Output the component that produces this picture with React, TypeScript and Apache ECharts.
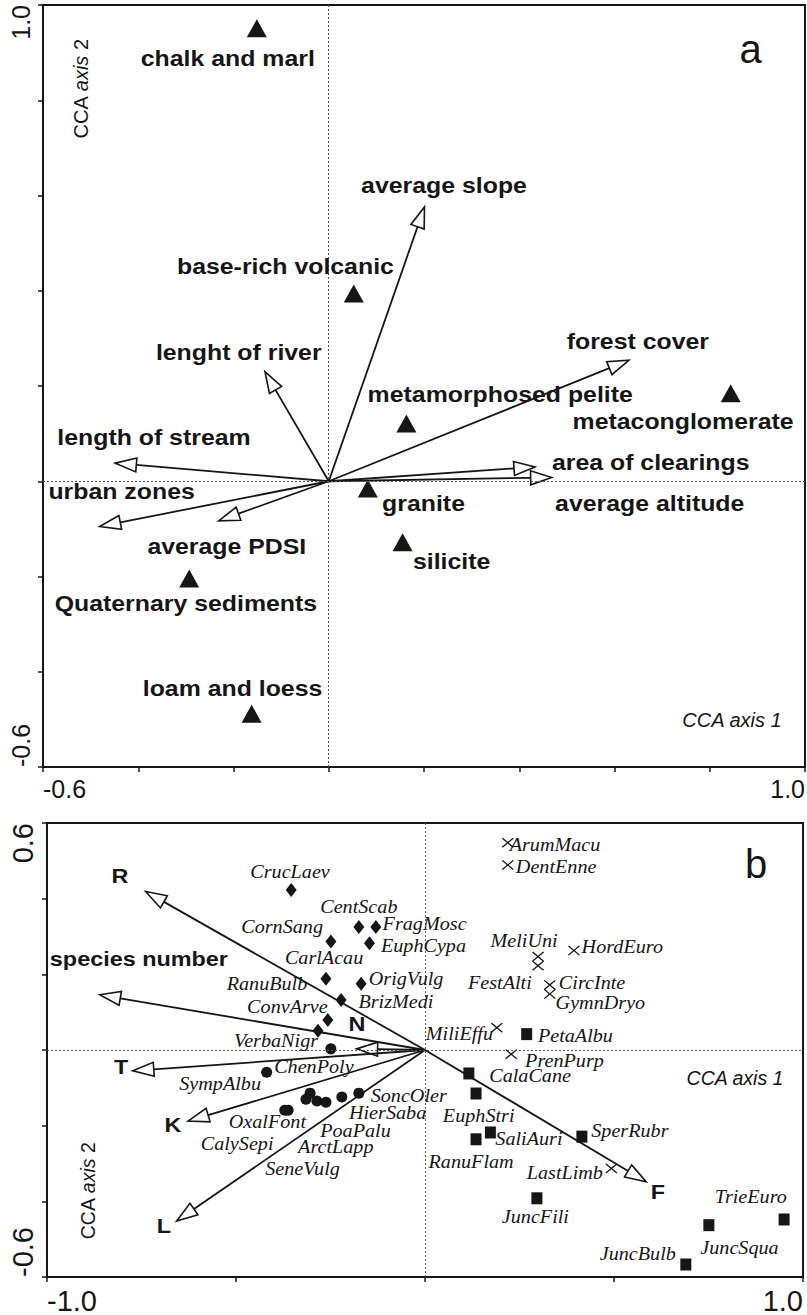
import React, { useEffect, useRef } from "react";
import * as echarts from "echarts";

// ---------------- Panel a : environmental variables (arrows) ----------------
const envNames = ["average slope", "lenght of river", "forest cover", "area of clearings", "average altitude", "length of stream", "urban zones", "average PDSI"];
const envX = [0.201, -0.134, 0.63, 0.433, 0.468, -0.448, -0.481, -0.231];
const envY = [0.576, 0.23, 0.254, 0.03, 0.008, 0.038, -0.095, -0.083];

// Panel a : bedrock types (triangles)
const rockNames = ["chalk and marl", "base-rich volcanic", "metamorphosed pelite", "metaconglomerate", "granite", "silicite", "Quaternary sediments", "loam and loess"];
const rockX = [-0.151, 0.0525, 0.163, 0.844, 0.082, 0.155, -0.293, -0.162];
const rockY = [0.951, 0.394, 0.121, 0.185, -0.015, -0.128, -0.204, -0.488];

// Panel a : label anchors (data units)
const labelANames = ["chalk and marl", "average slope", "base-rich volcanic", "lenght of river", "forest cover", "metamorphosed pelite", "metaconglomerate", "length of stream", "area of clearings", "urban zones", "granite", "average altitude", "average PDSI", "silicite", "Quaternary sediments", "loam and loess"];
const labelAX = [-0.212, 0.242, -0.091, -0.189, 0.649, 0.36, 0.744, -0.367, 0.676, -0.435, 0.199, 0.674, -0.214, 0.258, -0.3, -0.202];
const labelAY = [0.888, 0.621, 0.451, 0.27, 0.294, 0.182, 0.125, 0.091, 0.039, -0.022, -0.047, -0.047, -0.138, -0.169, -0.256, -0.436];

// Panel a axes
const axisAX = { min: -0.6, max: 1.0, interval: 0.2 };
const axisAY = { min: -0.6, max: 1.0, interval: 0.2 };
const tickLabelsAX = [-0.6, 1.0];
const tickLabelsAY = [-0.6, 1.0];

// ---------------- Panel b : trait arrows ----------------
const traitNames = ["R", "species number", "N", "T", "K", "L", "F"];
const traitX = [-0.739, -0.861, -0.181, -0.773, -0.627, -0.657, 0.585];
const traitY = [0.419, 0.146, 0.003, -0.055, -0.188, -0.452, -0.348];
const traitLabelX = [-0.807, -0.757, -0.18, -0.804, -0.667, -0.691, 0.616];
const traitLabelY = [0.458, 0.238, 0.066, -0.048, -0.201, -0.468, -0.378];

// Panel b : species groups
const diamondX = [-0.354, -0.175, -0.13, -0.249, -0.147, -0.262, -0.169, -0.222, -0.257, -0.283];
const diamondY = [0.423, 0.325, 0.325, 0.287, 0.282, 0.188, 0.175, 0.132, 0.079, 0.051];
const circleX = [-0.249, -0.419, -0.371, -0.362, -0.315, -0.304, -0.286, -0.262, -0.22, -0.175];
const circleY = [0.003, -0.059, -0.159, -0.159, -0.13, -0.114, -0.135, -0.138, -0.124, -0.114];
const crossX = [0.219, 0.219, 0.394, 0.299, 0.299, 0.33, 0.33, 0.19, 0.228, 0.493];
const crossY = [0.548, 0.489, 0.263, 0.247, 0.223, 0.172, 0.148, 0.059, -0.011, -0.313];
const squareX = [0.269, 0.116, 0.135, 0.173, 0.135, 0.415, 0.296, 0.95, 0.751, 0.69];
const squareY = [0.042, -0.062, -0.115, -0.218, -0.236, -0.229, -0.392, -0.448, -0.463, -0.567];

// Panel b : species label anchors (data units)
const speciesNames = ["ArumMacu", "DentEnne", "CrucLaev", "CentScab", "CornSang", "FragMosc", "EuphCypa", "MeliUni", "HordEuro", "CarlAcau", "RanuBulb", "OrigVulg", "FestAlti", "CircInte", "BrizMedi", "GymnDryo", "ConvArve", "MiliEffu", "PetaAlbu", "VerbaNigr", "PrenPurp", "ChenPoly", "CalaCane", "SympAlbu", "SoncOler", "HierSaba", "EuphStri", "OxalFont", "PoaPalu", "SaliAuri", "SperRubr", "CalySepi", "ArctLapp", "RanuFlam", "SeneVulg", "LastLimb", "TrieEuro", "JuncFili", "JuncSqua", "JuncBulb"];
const speciesLabelX = [0.344, 0.347, -0.357, -0.175, -0.378, -0.001, -0.004, 0.262, 0.522, -0.267, -0.418, -0.05, 0.198, 0.442, -0.077, 0.464, -0.364, 0.091, 0.398, -0.394, 0.369, -0.294, 0.278, -0.542, -0.043, -0.099, 0.142, -0.417, -0.184, 0.275, 0.542, -0.497, -0.236, 0.122, -0.324, 0.37, 0.862, 0.292, 0.832, 0.563];
const speciesLabelY = [0.542, 0.484, 0.471, 0.379, 0.326, 0.333, 0.276, 0.288, 0.272, 0.243, 0.175, 0.188, 0.177, 0.177, 0.127, 0.124, 0.115, 0.042, 0.038, 0.025, -0.028, -0.045, -0.068, -0.09, -0.121, -0.167, -0.174, -0.191, -0.213, -0.235, -0.213, -0.247, -0.257, -0.297, -0.315, -0.326, -0.388, -0.441, -0.522, -0.54];

// Panel b axes
const axisBX = { min: -1.0, max: 1.0, interval: 0.5 };
const axisBY = { min: -0.6, max: 0.6, interval: 0.2 };
const tickLabelsBX = [-1.0, 1.0];
const tickLabelsBY = [-0.6, 0.6];

const INK = "#161616";
const SANS = '"Liberation Sans", Arial, Helvetica, sans-serif';
const SERIF = '"Liberation Serif", "Times New Roman", serif';

function makeAxis(gridIndex: number, range: any, shown: number[], fontSize: number, margin: number, rotate: number) {
  return {
    type: "value",
    gridIndex,
    min: range.min,
    max: range.max,
    interval: range.interval,
    splitLine: { show: false },
    axisLine: { show: true, onZero: false, lineStyle: { color: INK, width: 2 } },
    axisTick: { show: true, inside: false, length: 5, lineStyle: { color: INK, width: 1.5 } },
    axisLabel: {
      show: true,
      rotate,
      margin,
      fontSize,
      fontFamily: SANS,
      color: INK,
      showMinLabel: true,
      showMaxLabel: true,
      alignMinLabel: "left",
      alignMaxLabel: "right",
      formatter: (v: number) => (shown.some((s) => Math.abs(s - v) < 1e-6) ? v.toFixed(1) : ""),
    },
  };
}

function arrowSeries(idx: number, xs: number[], ys: number[]) {
  return {
    type: "custom",
    xAxisIndex: idx,
    yAxisIndex: idx,
    clip: false,
    silent: true,
    z: 4,
    data: xs.map((x, i) => [x, ys[i]]),
    renderItem: (_p: any, api: any) => {
      const o = api.coord([0, 0]);
      const t = api.coord([api.value(0), api.value(1)]);
      const dx = t[0] - o[0];
      const dy = t[1] - o[1];
      const len = Math.hypot(dx, dy) || 1;
      const ux = dx / len;
      const uy = dy / len;
      const hl = Math.min(21, len * 0.8);
      const hw = 7;
      const bx = t[0] - ux * hl;
      const by = t[1] - uy * hl;
      const px = -uy;
      const py = ux;
      return {
        type: "group",
        children: [
          { type: "line", shape: { x1: o[0], y1: o[1], x2: bx, y2: by }, style: { stroke: INK, lineWidth: 1.8 } },
          {
            type: "polygon",
            shape: { points: [[t[0], t[1]], [bx + px * hw, by + py * hw], [bx - px * hw, by - py * hw]] },
            style: { fill: "#fff", stroke: INK, lineWidth: 1.6, lineJoin: "miter" },
          },
        ],
      };
    },
  };
}

function textSeries(idx: number, names: string[], xs: number[], ys: number[], font: string, scaleX: number, z: number) {
  return {
    type: "custom",
    xAxisIndex: idx,
    yAxisIndex: idx,
    clip: false,
    silent: true,
    z,
    data: xs.map((x, i) => [x, ys[i]]),
    renderItem: (p: any, api: any) => {
      const c = api.coord([api.value(0), api.value(1)]);
      return {
        type: "text",
        x: c[0],
        y: c[1],
        scaleX,
        style: { text: names[p.dataIndex], font, fill: INK, align: "center", verticalAlign: "middle" },
      };
    },
  };
}

function scatter(idx: number, xs: number[], ys: number[], symbol: string, size: any, extra: any = {}) {
  return {
    type: "scatter",
    xAxisIndex: idx,
    yAxisIndex: idx,
    symbol,
    symbolSize: size,
    silent: true,
    z: 3,
    itemStyle: { color: INK, opacity: 1 },
    data: xs.map((x, i) => [x, ys[i]]),
    ...extra,
  };
}

const zeroLines = {
  silent: true,
  symbol: ["none", "none"],
  label: { show: false },
  lineStyle: { type: [2, 2], color: "#555", width: 1 },
  data: [{ xAxis: 0 }, { yAxis: 0 }],
};

const CROSS = "path://M0,1L1,0L6,5L11,0L12,1L7,6L12,11L11,12L6,7L1,12L0,11L5,6Z";

function buildOption(): any {
  return {
    animation: false,
    grid: [
      { left: 43, top: 5, width: 762, height: 762, show: true, borderColor: INK, borderWidth: 2, outerBoundsMode: "none", containLabel: false },
      { left: 47, top: 823, width: 756, height: 454, show: true, borderColor: INK, borderWidth: 2, outerBoundsMode: "none", containLabel: false },
    ],
    xAxis: [makeAxis(0, axisAX, tickLabelsAX, 25, 9, 0), makeAxis(1, axisBX, tickLabelsBX, 29, 9, 0)],
    yAxis: [makeAxis(0, axisAY, tickLabelsAY, 25, 10, 90), makeAxis(1, axisBY, tickLabelsBY, 29, 10, 90)],
    series: [
      scatter(0, rockX, rockY, "triangle", [20, 18], { markLine: zeroLines, name: "bedrock" }),
      arrowSeries(0, envX, envY),
      textSeries(0, labelANames, labelAX, labelAY, `bold 22px ${SANS}`, 1.13, 6),
      scatter(1, circleX, circleY, "circle", 11, { markLine: zeroLines }),
      scatter(1, diamondX, diamondY, "diamond", [11, 14]),
      scatter(1, squareX, squareY, "rect", [11, 12]),
      scatter(1, crossX, crossY, CROSS, [12, 10]),
      arrowSeries(1, traitX, traitY),
      textSeries(1, traitNames, traitLabelX, traitLabelY, `bold 19.5px ${SANS}`, 1.2, 6),
      textSeries(1, speciesNames, speciesLabelX, speciesLabelY, `italic 18px ${SERIF}`, 1.12, 6),
    ],
    graphic: [
      { type: "text", x: 750.5, y: 49, style: { text: "a", font: `40px ${SANS}`, fill: INK, align: "center", verticalAlign: "middle" } },
      { type: "text", x: 756, y: 864, style: { text: "b", font: `40px ${SANS}`, fill: INK, align: "center", verticalAlign: "middle" } },
      {
        type: "text",
        x: 81,
        y: 89,
        rotation: Math.PI / 2,
        style: {
          text: "{n|CCA }{i|axis}{n| 2}",
          align: "center",
          verticalAlign: "middle",
          fill: INK,
          rich: {
            n: { fontSize: 20, fontFamily: SANS, fill: INK },
            i: { fontSize: 20, fontFamily: SANS, fontStyle: "italic", fill: INK },
          },
        },
      },
      { type: "text", x: 732, y: 720, style: { text: "CCA axis 1", font: `italic 20px ${SANS}`, fill: INK, align: "center", verticalAlign: "middle" } },
      {
        type: "text",
        x: 88,
        y: 1191,
        rotation: Math.PI / 2,
        style: {
          text: "{n|CCA }{i|axis}{n| 2}",
          align: "center",
          verticalAlign: "middle",
          fill: INK,
          rich: {
            n: { fontSize: 19.5, fontFamily: SANS, fill: INK },
            i: { fontSize: 19.5, fontFamily: SANS, fontStyle: "italic", fill: INK },
          },
        },
      },
      { type: "text", x: 735, y: 1078, style: { text: "CCA axis 1", font: `italic 19.5px ${SANS}`, fill: INK, align: "center", verticalAlign: "middle" } },
    ],
  };
}

export default function App() {
  const ref = useRef<HTMLDivElement>(null);
  useEffect(() => {
    document.body.style.margin = "0";
    const chart = echarts.init(ref.current as HTMLDivElement, null, { renderer: "svg" });
    chart.setOption(buildOption());
    return () => {
      chart.dispose();
    };
  }, []);
  return <div ref={ref} style={{ width: 807, height: 1315, background: "#fff" }} />;
}
